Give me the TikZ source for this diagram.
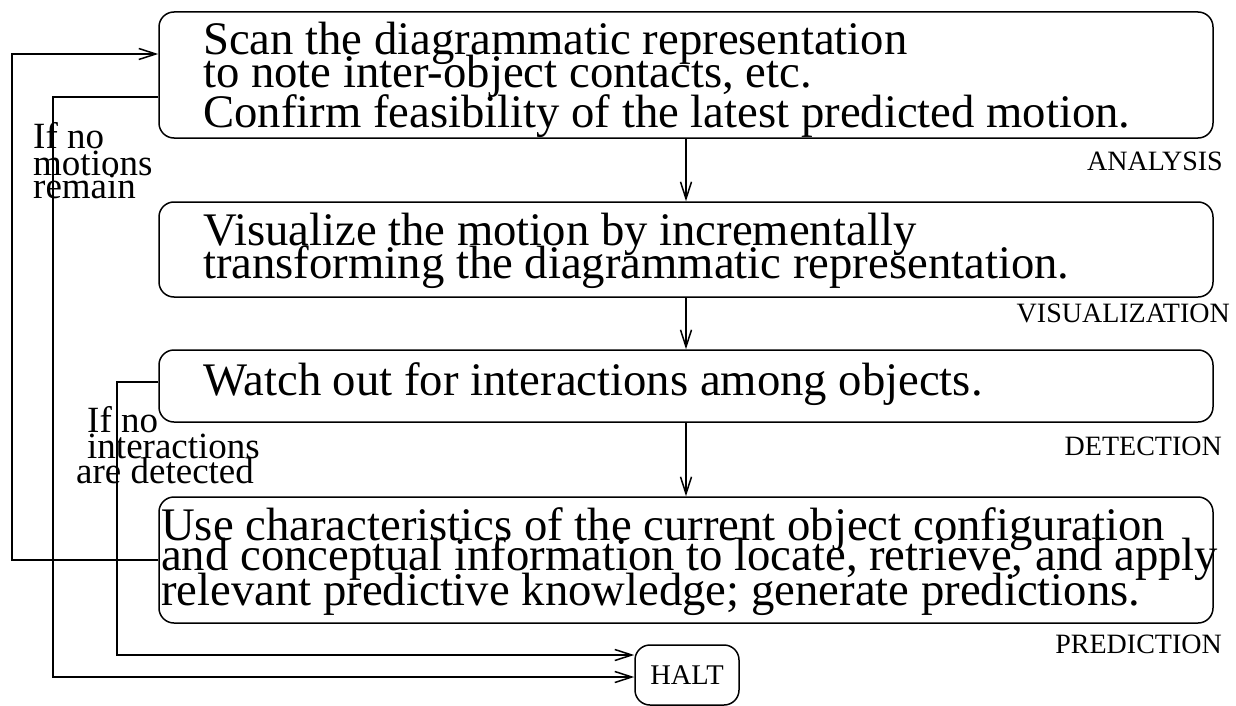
\documentclass[tikz,border=0pt]{standalone}
\usepackage{fontspec}
\setmainfont{Liberation Serif}
\usetikzlibrary{arrows.meta}
\begin{document}
\begin{tikzpicture}[x=1pt,y=-1pt,
  stagebox/.style={draw, line width=1.5pt, rounded corners=15pt,
    minimum width=1054pt, inner sep=0pt},
  bodytext/.style={anchor=base west, inner sep=0pt, font=\fontsize{46.7}{46.7}\selectfont},
  sidetext/.style={anchor=base west, inner sep=0pt, font=\fontsize{37}{37}\selectfont},
  tagtext/.style={anchor=base east, inner sep=0pt, font=\fontsize{28}{28}\selectfont},
  link/.style={line width=1.5pt, -{Straight Barb[length=17pt,width=11pt]}}]
\useasboundingbox (0,0) rectangle (1236,706);

% stage boxes
\node[stagebox, minimum height=126pt] (box1) at (686,75) {};
\node[stagebox, minimum height=95pt]  (box2) at (686,249.5) {};
\node[stagebox, minimum height=72pt]  (box3) at (686,386) {};
\node[stagebox, minimum height=126pt] (box4) at (686,560) {};
\node[draw, line width=1.5pt, rounded corners=15pt, minimum width=104pt,
  minimum height=60pt, inner sep=0pt, font=\fontsize{28.5}{28.5}\selectfont]
  (halt) at (687,675) {\raisebox{-2pt}{HALT}};

% box texts
\node[bodytext] (t11) at (203,55)  {Scan the diagrammatic representation};
\node[bodytext] (t12) at (203,88)  {to note inter-object contacts, etc.};
\node[bodytext] (t13) at (203,128) {Confirm feasibility of the latest predicted motion.};
\node[bodytext] (t21) at (203,245) {Visualize the motion by incrementally};
\node[bodytext] (t22) at (203,278) {transforming the diagrammatic representation.};
\node[bodytext] (t31) at (203,395) {Watch out for interactions among objects.};
\node[bodytext] (t41) at (161,540) {Use characteristics of the current object configuration};
\node[bodytext] (t42) at (161,570) {and conceptual information to locate, retrieve, and apply};
\node[bodytext] (t43) at (161,605) {relevant predictive knowledge; generate predictions.};

% stage tags
\node[tagtext] (tagA) at (1223,170) {ANALYSIS};
\node[tagtext] (tagV) at (1230,322) {VISUALIZATION};
\node[tagtext] (tagD) at (1222,455) {DETECTION};
\node[tagtext] (tagP) at (1222,653) {PREDICTION};

% feedback conditions
\node[sidetext] (c11) at (33,148) {If no};
\node[sidetext] (c12) at (33,175) {motions};
\node[sidetext] (c13) at (33,198) {remain};
\node[sidetext] (c21) at (87,432) {If no};
\node[sidetext] (c22) at (87,458) {interactions};
\node[sidetext] (c23) at (76,483) {are detected};

% main flow
\draw[link] (box1.south) -- (box2.north);
\draw[link] (box2.south) -- (box3.north);
\draw[link] (box3.south) -- (box4.north);

% loop-back and halting paths
\coordinate (railA) at (12,0);
\coordinate (railB) at (53,0);
\coordinate (railC) at (117,0);
\draw[link] (box4.west) -- (box4.west -| railA) |- ([yshift=21pt]box1.west);
\draw[link] ([yshift=-22pt]box1.west) -- ([yshift=-22pt]box1.west -| railB)
  |- ([yshift=-2pt]halt.west);
\draw[link] ([yshift=4pt]box3.west) -- ([yshift=4pt]box3.west -| railC)
  |- ([yshift=20pt]halt.west);
\end{tikzpicture}
\end{document}
